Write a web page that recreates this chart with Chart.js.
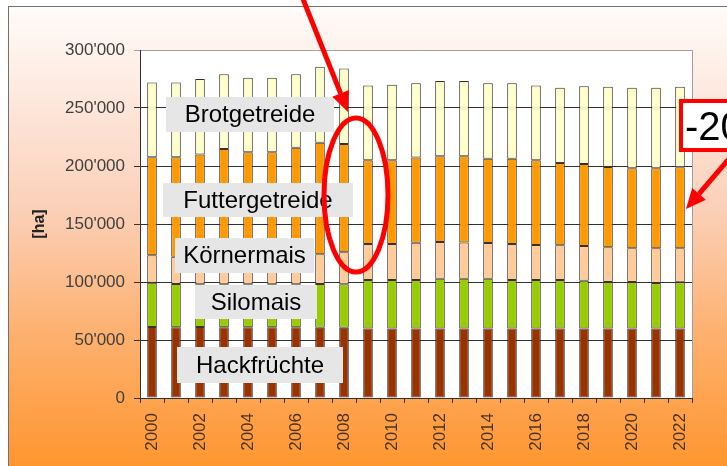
<!DOCTYPE html>
<html>
<head>
<meta charset="utf-8">
<title>Ackerflächen 2000-2022</title>
<script src="https://cdn.jsdelivr.net/npm/chart.js@4.4.1/dist/chart.umd.min.js"></script>
<style>
  html, body { margin: 0; padding: 0; background: #fff; }
  #wrap { width: 727px; height: 466px; }
</style>
</head>
<body>
<div id="wrap"><canvas id="chart" width="727" height="466"></canvas></div>
<script>
// Offene Ackerfläche nach Kultur, in ha
const years = ['2000','2001','2002','2003','2004','2005','2006','2007','2008','2009','2010','2011',
               '2012','2013','2014','2015','2016','2017','2018','2019','2020','2021','2022'];

const hackfruechte   = [61200, 61000, 61200, 61000, 61000, 61000, 61000, 60600, 60500, 60000, 60000, 60000,
                        60000, 60000, 60000, 60000, 60000, 60000, 60000, 60000, 60000, 60000, 60000];
const silomais       = [38200, 37300, 36800, 37000, 37000, 37000, 37000, 37700, 37500, 41700, 41700, 41700,
                        42800, 42800, 42800, 41700, 41700, 41700, 41100, 40000, 40000, 39100, 39700];
const koernermais    = [23600, 23500, 24000, 24500, 25000, 25000, 25500, 25700, 27600, 31100, 31100, 32100,
                        31700, 31200, 30800, 31100, 30200, 29900, 29900, 29900, 29000, 29900, 29300];
const futtergetreide = [84500, 85700, 88000, 92200, 88800, 88800, 92300, 96000, 93400, 72200, 72200, 73500,
                        73800, 74300, 72700, 73500, 73000, 71000, 70700, 69200, 69000, 69000, 69900];
const brotgetreide   = [64500, 64500, 65000, 64300, 64200, 64200, 63200, 65600, 65000, 64500, 65000, 64000,
                        65000, 65000, 65000, 65000, 64400, 64900, 67000, 69300, 69500, 69500, 69500];

const yTicks = [0, 50000, 100000, 150000, 200000, 250000, 300000];
const unitLabel = '[ha]';
const calloutText = '-20';

const seriesNames  = ['Hackfrüchte', 'Silomais', 'Körnermais', 'Futtergetreide', 'Brotgetreide'];
const seriesColors = ['#993300', '#99cc00', '#ffcc99', '#ff9900', '#ffffcc'];

const FONT = '"Liberation Sans", Arial, sans-serif';

function fmtHa(v) {
  return String(v).replace(/\B(?=(\d{3})+(?!\d))/g, "'");
}

/* ---------- background: gradient frame + white plot area ---------- */
const backdrop = {
  id: 'backdrop',
  beforeDraw(chart) {
    const { ctx, width, height, chartArea: a } = chart;
    ctx.save();
    ctx.fillStyle = '#fff';
    ctx.fillRect(0, 0, width, height);
    const g = ctx.createLinearGradient(0, 6, 0, height);
    g.addColorStop(0, '#fffcfa');
    g.addColorStop(0.2, '#fde8dd');
    g.addColorStop(0.45, '#fbcfb6');
    g.addColorStop(0.7, '#fdb272');
    g.addColorStop(1, '#ff9630');
    ctx.fillStyle = g;
    ctx.fillRect(8, 6, width, height);
    ctx.strokeStyle = '#707070';
    ctx.lineWidth = 1;
    ctx.strokeRect(8.5, 6.5, width + 10, height + 10);
    ctx.fillStyle = '#fff';
    ctx.fillRect(a.left, a.top, a.right - a.left, a.bottom - a.top);
    ctx.strokeStyle = '#a0a0a0';
    ctx.beginPath();
    ctx.moveTo(a.left, a.top + 0.5);
    ctx.lineTo(a.right + 0.5, a.top + 0.5);
    ctx.lineTo(a.right + 0.5, a.bottom);
    ctx.stroke();
    ctx.restore();
  }
};

/* ---------- grey name boxes on top of the bars ---------- */
// [text, x, y, w, h]
const nameBoxes = [
  ['Brotgetreide',   166,  97, 168, 35],
  ['Futtergetreide', 163, 183, 190, 34],
  ['Körnermais',     175, 238, 139, 35],
  ['Silomais',       195, 285, 122, 34],
  ['Hackfrüchte',    177, 347, 166, 36]
];

const nameLabels = {
  id: 'nameLabels',
  afterDatasetsDraw(chart) {
    const ctx = chart.ctx;
    ctx.save();
    ctx.font = '24px ' + FONT;
    ctx.textAlign = 'center';
    ctx.textBaseline = 'middle';
    for (const [t, x, y, w, h] of nameBoxes) {
      ctx.fillStyle = '#e6e6e6';
      ctx.fillRect(x, y, w, h);
      ctx.fillStyle = '#000';
      ctx.fillText(t, x + w / 2, y + h / 2 + 1);
    }
    ctx.restore();
  }
};

/* ---------- red marks: arrows, ellipse, callout ---------- */
function arrow(ctx, x1, y1, x2, y2, w) {
  const ang = Math.atan2(y2 - y1, x2 - x1);
  const head = 20, half = 9;
  const bx = x2 - head * Math.cos(ang), by = y2 - head * Math.sin(ang);
  ctx.lineWidth = w;
  ctx.beginPath();
  ctx.moveTo(x1, y1);
  ctx.lineTo(bx, by);
  ctx.stroke();
  ctx.beginPath();
  ctx.moveTo(x2, y2);
  ctx.lineTo(bx + half * Math.sin(ang), by - half * Math.cos(ang));
  ctx.lineTo(bx - half * Math.sin(ang), by + half * Math.cos(ang));
  ctx.closePath();
  ctx.fill();
}

const redMarks = {
  id: 'redMarks',
  afterDraw(chart) {
    const { ctx } = chart;
    const xs = chart.scales.x;
    const cx = (xs.getPixelForValue(8) + xs.getPixelForValue(9)) / 2;
    ctx.save();
    ctx.strokeStyle = '#ff0000';
    ctx.fillStyle = '#ff0000';
    // ellipse around 2008/2009
    ctx.lineWidth = 5;
    ctx.beginPath();
    ctx.ellipse(cx, 195, 32, 77, 0, 0, Math.PI * 2);
    ctx.stroke();
    // arrows
    arrow(ctx, 301, -6, 348, 112, 5);
    arrow(ctx, 734, 153, 686, 209, 5);
    // callout box
    ctx.fillStyle = '#fff';
    ctx.fillRect(681, 101, 60, 49);
    ctx.lineWidth = 4;
    ctx.strokeRect(681, 101, 60, 49);
    ctx.fillStyle = '#000';
    ctx.font = '40px ' + FONT;
    ctx.textAlign = 'left';
    ctx.textBaseline = 'alphabetic';
    ctx.fillText(calloutText, 685, 140);
    ctx.restore();
  }
};

const seriesData = [hackfruechte, silomais, koernermais, futtergetreide, brotgetreide];

new Chart(document.getElementById('chart'), {
  type: 'bar',
  data: {
    labels: years,
    datasets: seriesData.map((d, i) => ({
      label: seriesNames[i],
      data: d,
      backgroundColor: seriesColors[i],
      borderColor: '#3b3029',
      borderWidth: 1,
      borderSkipped: false,
      barPercentage: 0.4,
      categoryPercentage: 1.0
    }))
  },
  options: {
    responsive: false,
    animation: false,
    events: [],
    layout: { padding: { left: 30, top: 50, right: 35, bottom: 0 } },
    plugins: {
      legend: { display: false },
      tooltip: { enabled: false }
    },
    scales: {
      x: {
        stacked: true,
        offset: true,
        afterFit(s) { s.height = 68; },
        grid: { offset: true, drawOnChartArea: false, drawTicks: true, tickLength: 5, color: '#333' },
        border: { display: true, color: '#333', width: 1 },
        ticks: {
          autoSkip: false,
          minRotation: 90,
          maxRotation: 90,
          padding: 10,
          color: '#4d3319',
          font: { family: FONT, size: 17 },
          callback(v, i) { return i % 2 === 0 ? this.getLabelForValue(v) : ''; }
        }
      },
      y: {
        stacked: true,
        min: 0,
        max: 300000,
        afterFit(s) { s.width = 110; },
        afterBuildTicks(s) { s.ticks = yTicks.map(v => ({ value: v })); },
        grid: {
          tickLength: 6,
          color: ctx => (ctx.tick && ctx.tick.value === 300000 ? '#a0a0a0' : '#333')
        },
        border: { display: true, color: '#333', width: 1 },
        title: {
          display: true,
          text: unitLabel,
          color: '#222',
          padding: 0,
          font: { family: FONT, size: 16, weight: 'bold' }
        },
        ticks: {
          padding: 9,
          color: '#404040',
          font: { family: FONT, size: 17 },
          callback: v => fmtHa(v)
        }
      }
    }
  },
  plugins: [backdrop, nameLabels, redMarks]
});
</script>
</body>
</html>
